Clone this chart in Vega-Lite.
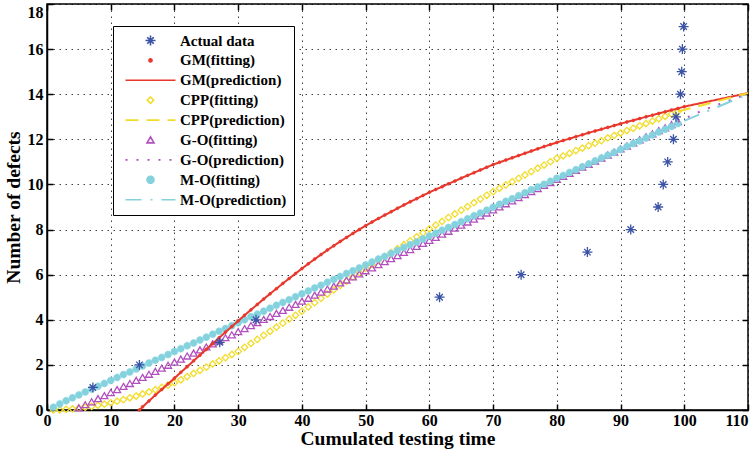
{
  "$schema": "https://vega.github.io/schema/vega-lite/v6.json",
  "autosize": {"type": "none"},
  "padding": {"left": 47, "top": 4, "right": 8, "bottom": 42},
  "width": 701,
  "height": 406,
  "background": "white",
  "datasets": {
    "actual": [
      {"s":"Actual data","t":7.2,"y":1},{"s":"Actual data","t":14.5,"y":2},{"s":"Actual data","t":27.1,"y":3},{"s":"Actual data","t":32.8,"y":4},{"s":"Actual data","t":61.6,"y":5},{"s":"Actual data","t":74.4,"y":6},{"s":"Actual data","t":84.8,"y":7},{"s":"Actual data","t":91.6,"y":8},{"s":"Actual data","t":95.9,"y":9},{"s":"Actual data","t":96.7,"y":10},{"s":"Actual data","t":97.4,"y":11},{"s":"Actual data","t":98.3,"y":12},{"s":"Actual data","t":98.7,"y":13},{"s":"Actual data","t":99.4,"y":14},{"s":"Actual data","t":99.6,"y":15},{"s":"Actual data","t":99.7,"y":16},{"s":"Actual data","t":99.9,"y":17}
    ],
    "gm": [
      {"s":"GM(fitting)","t":14.5,"y":0},{"s":"GM(fitting)","t":15,"y":0.14},{"s":"GM(fitting)","t":16,"y":0.4},{"s":"GM(fitting)","t":17,"y":0.66},{"s":"GM(fitting)","t":18,"y":0.91},{"s":"GM(fitting)","t":19,"y":1.16},{"s":"GM(fitting)","t":20,"y":1.41},
      {"s":"GM(fitting)","t":21,"y":1.67},{"s":"GM(fitting)","t":22,"y":1.92},{"s":"GM(fitting)","t":23,"y":2.18},{"s":"GM(fitting)","t":24,"y":2.43},{"s":"GM(fitting)","t":25,"y":2.69},{"s":"GM(fitting)","t":26,"y":2.94},{"s":"GM(fitting)","t":27,"y":3.2},{"s":"GM(fitting)","t":28,"y":3.45},{"s":"GM(fitting)","t":29,"y":3.7},{"s":"GM(fitting)","t":30,"y":3.95},
      {"s":"GM(fitting)","t":31,"y":4.2},{"s":"GM(fitting)","t":32,"y":4.44},{"s":"GM(fitting)","t":33,"y":4.68},{"s":"GM(fitting)","t":34,"y":4.92},{"s":"GM(fitting)","t":35,"y":5.15},{"s":"GM(fitting)","t":36,"y":5.38},{"s":"GM(fitting)","t":37,"y":5.61},{"s":"GM(fitting)","t":38,"y":5.83},{"s":"GM(fitting)","t":39,"y":6.05},{"s":"GM(fitting)","t":40,"y":6.27},
      {"s":"GM(fitting)","t":41,"y":6.48},{"s":"GM(fitting)","t":42,"y":6.69},{"s":"GM(fitting)","t":43,"y":6.89},{"s":"GM(fitting)","t":44,"y":7.09},{"s":"GM(fitting)","t":45,"y":7.28},{"s":"GM(fitting)","t":46,"y":7.47},{"s":"GM(fitting)","t":47,"y":7.65},{"s":"GM(fitting)","t":48,"y":7.83},{"s":"GM(fitting)","t":49,"y":8.0},{"s":"GM(fitting)","t":50,"y":8.17},
      {"s":"GM(fitting)","t":51,"y":8.33},{"s":"GM(fitting)","t":52,"y":8.49},{"s":"GM(fitting)","t":53,"y":8.64},{"s":"GM(fitting)","t":54,"y":8.79},{"s":"GM(fitting)","t":55,"y":8.94},{"s":"GM(fitting)","t":56,"y":9.09},{"s":"GM(fitting)","t":57,"y":9.23},{"s":"GM(fitting)","t":58,"y":9.37},{"s":"GM(fitting)","t":59,"y":9.51},{"s":"GM(fitting)","t":60,"y":9.65},
      {"s":"GM(fitting)","t":61,"y":9.78},{"s":"GM(fitting)","t":62,"y":9.9},{"s":"GM(fitting)","t":63,"y":10.03},{"s":"GM(fitting)","t":64,"y":10.15},{"s":"GM(fitting)","t":65,"y":10.28},{"s":"GM(fitting)","t":66,"y":10.4},{"s":"GM(fitting)","t":67,"y":10.52},{"s":"GM(fitting)","t":68,"y":10.64},{"s":"GM(fitting)","t":69,"y":10.76},{"s":"GM(fitting)","t":70,"y":10.88},
      {"s":"GM(fitting)","t":71,"y":10.98},{"s":"GM(fitting)","t":72,"y":11.08},{"s":"GM(fitting)","t":73,"y":11.18},{"s":"GM(fitting)","t":74,"y":11.28},{"s":"GM(fitting)","t":75,"y":11.38},{"s":"GM(fitting)","t":76,"y":11.48},{"s":"GM(fitting)","t":77,"y":11.58},{"s":"GM(fitting)","t":78,"y":11.68},{"s":"GM(fitting)","t":79,"y":11.77},{"s":"GM(fitting)","t":80,"y":11.86},
      {"s":"GM(fitting)","t":81,"y":11.95},{"s":"GM(fitting)","t":82,"y":12.03},{"s":"GM(fitting)","t":83,"y":12.12},{"s":"GM(fitting)","t":84,"y":12.2},{"s":"GM(fitting)","t":85,"y":12.29},{"s":"GM(fitting)","t":86,"y":12.37},{"s":"GM(fitting)","t":87,"y":12.45},{"s":"GM(fitting)","t":88,"y":12.53},{"s":"GM(fitting)","t":89,"y":12.61},{"s":"GM(fitting)","t":90,"y":12.69},
      {"s":"GM(fitting)","t":91,"y":12.77},{"s":"GM(fitting)","t":92,"y":12.84},{"s":"GM(fitting)","t":93,"y":12.92},{"s":"GM(fitting)","t":94,"y":13.0},{"s":"GM(fitting)","t":95,"y":13.07},{"s":"GM(fitting)","t":96,"y":13.15},{"s":"GM(fitting)","t":97,"y":13.22},{"s":"GM(fitting)","t":98,"y":13.3},{"s":"GM(fitting)","t":99,"y":13.37},{"s":"GM(fitting)","t":100,"y":13.45},
      {"s":"GM(prediction)","t":100,"y":13.45},{"s":"GM(prediction)","t":102,"y":13.57},{"s":"GM(prediction)","t":104,"y":13.69},{"s":"GM(prediction)","t":106,"y":13.81},{"s":"GM(prediction)","t":108,"y":13.93},{"s":"GM(prediction)","t":110,"y":14.05}
    ],
    "cpp": [
      {"s":"CPP(fitting)","t":1,"y":0},{"s":"CPP(fitting)","t":2,"y":0.01},{"s":"CPP(fitting)","t":3,"y":0.03},{"s":"CPP(fitting)","t":4,"y":0.05},{"s":"CPP(fitting)","t":5,"y":0.08},{"s":"CPP(fitting)","t":6,"y":0.12},{"s":"CPP(fitting)","t":7,"y":0.16},{"s":"CPP(fitting)","t":8,"y":0.21},{"s":"CPP(fitting)","t":9,"y":0.26},{"s":"CPP(fitting)","t":10,"y":0.32},
      {"s":"CPP(fitting)","t":11,"y":0.39},{"s":"CPP(fitting)","t":12,"y":0.46},{"s":"CPP(fitting)","t":13,"y":0.54},{"s":"CPP(fitting)","t":14,"y":0.62},{"s":"CPP(fitting)","t":15,"y":0.71},{"s":"CPP(fitting)","t":16,"y":0.8},{"s":"CPP(fitting)","t":17,"y":0.9},{"s":"CPP(fitting)","t":18,"y":1.0},{"s":"CPP(fitting)","t":19,"y":1.1},{"s":"CPP(fitting)","t":20,"y":1.21},
      {"s":"CPP(fitting)","t":21,"y":1.34},{"s":"CPP(fitting)","t":22,"y":1.48},{"s":"CPP(fitting)","t":23,"y":1.62},{"s":"CPP(fitting)","t":24,"y":1.76},{"s":"CPP(fitting)","t":25,"y":1.9},{"s":"CPP(fitting)","t":26,"y":2.04},{"s":"CPP(fitting)","t":27,"y":2.18},{"s":"CPP(fitting)","t":28,"y":2.32},{"s":"CPP(fitting)","t":29,"y":2.46},{"s":"CPP(fitting)","t":30,"y":2.6},
      {"s":"CPP(fitting)","t":31,"y":2.78},{"s":"CPP(fitting)","t":32,"y":2.95},{"s":"CPP(fitting)","t":33,"y":3.13},{"s":"CPP(fitting)","t":34,"y":3.31},{"s":"CPP(fitting)","t":35,"y":3.49},{"s":"CPP(fitting)","t":36,"y":3.67},{"s":"CPP(fitting)","t":37,"y":3.85},{"s":"CPP(fitting)","t":38,"y":4.03},{"s":"CPP(fitting)","t":39,"y":4.2},{"s":"CPP(fitting)","t":40,"y":4.38},
      {"s":"CPP(fitting)","t":41,"y":4.57},{"s":"CPP(fitting)","t":42,"y":4.76},{"s":"CPP(fitting)","t":43,"y":4.95},{"s":"CPP(fitting)","t":44,"y":5.14},{"s":"CPP(fitting)","t":45,"y":5.33},{"s":"CPP(fitting)","t":46,"y":5.52},{"s":"CPP(fitting)","t":47,"y":5.71},{"s":"CPP(fitting)","t":48,"y":5.9},{"s":"CPP(fitting)","t":49,"y":6.09},{"s":"CPP(fitting)","t":50,"y":6.28},
      {"s":"CPP(fitting)","t":51,"y":6.45},{"s":"CPP(fitting)","t":52,"y":6.63},{"s":"CPP(fitting)","t":53,"y":6.8},{"s":"CPP(fitting)","t":54,"y":6.98},{"s":"CPP(fitting)","t":55,"y":7.15},{"s":"CPP(fitting)","t":56,"y":7.33},{"s":"CPP(fitting)","t":57,"y":7.5},{"s":"CPP(fitting)","t":58,"y":7.68},{"s":"CPP(fitting)","t":59,"y":7.85},{"s":"CPP(fitting)","t":60,"y":8.03},
      {"s":"CPP(fitting)","t":61,"y":8.2},{"s":"CPP(fitting)","t":62,"y":8.36},{"s":"CPP(fitting)","t":63,"y":8.53},{"s":"CPP(fitting)","t":64,"y":8.69},{"s":"CPP(fitting)","t":65,"y":8.86},{"s":"CPP(fitting)","t":66,"y":9.02},{"s":"CPP(fitting)","t":67,"y":9.19},{"s":"CPP(fitting)","t":68,"y":9.35},{"s":"CPP(fitting)","t":69,"y":9.52},{"s":"CPP(fitting)","t":70,"y":9.68},
      {"s":"CPP(fitting)","t":71,"y":9.83},{"s":"CPP(fitting)","t":72,"y":9.98},{"s":"CPP(fitting)","t":73,"y":10.12},{"s":"CPP(fitting)","t":74,"y":10.27},{"s":"CPP(fitting)","t":75,"y":10.42},{"s":"CPP(fitting)","t":76,"y":10.57},{"s":"CPP(fitting)","t":77,"y":10.72},{"s":"CPP(fitting)","t":78,"y":10.86},{"s":"CPP(fitting)","t":79,"y":11.01},{"s":"CPP(fitting)","t":80,"y":11.16},
      {"s":"CPP(fitting)","t":81,"y":11.27},{"s":"CPP(fitting)","t":82,"y":11.38},{"s":"CPP(fitting)","t":83,"y":11.5},{"s":"CPP(fitting)","t":84,"y":11.61},{"s":"CPP(fitting)","t":85,"y":11.72},{"s":"CPP(fitting)","t":86,"y":11.83},{"s":"CPP(fitting)","t":87,"y":11.94},{"s":"CPP(fitting)","t":88,"y":12.06},{"s":"CPP(fitting)","t":89,"y":12.17},{"s":"CPP(fitting)","t":90,"y":12.28},
      {"s":"CPP(fitting)","t":91,"y":12.39},{"s":"CPP(fitting)","t":92,"y":12.49},{"s":"CPP(fitting)","t":93,"y":12.6},{"s":"CPP(fitting)","t":94,"y":12.7},{"s":"CPP(fitting)","t":95,"y":12.81},{"s":"CPP(fitting)","t":96,"y":12.91},{"s":"CPP(fitting)","t":97,"y":13.02},{"s":"CPP(fitting)","t":98,"y":13.12},{"s":"CPP(fitting)","t":99,"y":13.23},
      {"s":"CPP(prediction)","t":99,"y":13.23},{"s":"CPP(prediction)","t":110,"y":14.05}
    ],
    "go": [
      {"s":"G-O(fitting)","t":5,"y":0.09},{"s":"G-O(fitting)","t":6,"y":0.23},{"s":"G-O(fitting)","t":7,"y":0.36},{"s":"G-O(fitting)","t":8,"y":0.5},{"s":"G-O(fitting)","t":9,"y":0.63},{"s":"G-O(fitting)","t":10,"y":0.77},
      {"s":"G-O(fitting)","t":11,"y":0.9},{"s":"G-O(fitting)","t":12,"y":1.04},{"s":"G-O(fitting)","t":13,"y":1.17},{"s":"G-O(fitting)","t":14,"y":1.31},{"s":"G-O(fitting)","t":15,"y":1.44},{"s":"G-O(fitting)","t":16,"y":1.58},{"s":"G-O(fitting)","t":17,"y":1.71},{"s":"G-O(fitting)","t":18,"y":1.85},{"s":"G-O(fitting)","t":19,"y":1.98},{"s":"G-O(fitting)","t":20,"y":2.12},
      {"s":"G-O(fitting)","t":21,"y":2.25},{"s":"G-O(fitting)","t":22,"y":2.39},{"s":"G-O(fitting)","t":23,"y":2.52},{"s":"G-O(fitting)","t":24,"y":2.66},{"s":"G-O(fitting)","t":25,"y":2.79},{"s":"G-O(fitting)","t":26,"y":2.93},{"s":"G-O(fitting)","t":27,"y":3.06},{"s":"G-O(fitting)","t":28,"y":3.2},{"s":"G-O(fitting)","t":29,"y":3.33},{"s":"G-O(fitting)","t":30,"y":3.47},
      {"s":"G-O(fitting)","t":31,"y":3.6},{"s":"G-O(fitting)","t":32,"y":3.74},{"s":"G-O(fitting)","t":33,"y":3.87},{"s":"G-O(fitting)","t":34,"y":4.01},{"s":"G-O(fitting)","t":35,"y":4.14},{"s":"G-O(fitting)","t":36,"y":4.28},{"s":"G-O(fitting)","t":37,"y":4.41},{"s":"G-O(fitting)","t":38,"y":4.55},{"s":"G-O(fitting)","t":39,"y":4.68},{"s":"G-O(fitting)","t":40,"y":4.82},
      {"s":"G-O(fitting)","t":41,"y":4.95},{"s":"G-O(fitting)","t":42,"y":5.09},{"s":"G-O(fitting)","t":43,"y":5.22},{"s":"G-O(fitting)","t":44,"y":5.36},{"s":"G-O(fitting)","t":45,"y":5.49},{"s":"G-O(fitting)","t":46,"y":5.63},{"s":"G-O(fitting)","t":47,"y":5.76},{"s":"G-O(fitting)","t":48,"y":5.9},{"s":"G-O(fitting)","t":49,"y":6.03},{"s":"G-O(fitting)","t":50,"y":6.17},
      {"s":"G-O(fitting)","t":51,"y":6.3},{"s":"G-O(fitting)","t":52,"y":6.44},{"s":"G-O(fitting)","t":53,"y":6.57},{"s":"G-O(fitting)","t":54,"y":6.71},{"s":"G-O(fitting)","t":55,"y":6.84},{"s":"G-O(fitting)","t":56,"y":6.98},{"s":"G-O(fitting)","t":57,"y":7.11},{"s":"G-O(fitting)","t":58,"y":7.25},{"s":"G-O(fitting)","t":59,"y":7.38},{"s":"G-O(fitting)","t":60,"y":7.52},
      {"s":"G-O(fitting)","t":61,"y":7.65},{"s":"G-O(fitting)","t":62,"y":7.79},{"s":"G-O(fitting)","t":63,"y":7.92},{"s":"G-O(fitting)","t":64,"y":8.06},{"s":"G-O(fitting)","t":65,"y":8.19},{"s":"G-O(fitting)","t":66,"y":8.33},{"s":"G-O(fitting)","t":67,"y":8.46},{"s":"G-O(fitting)","t":68,"y":8.6},{"s":"G-O(fitting)","t":69,"y":8.73},{"s":"G-O(fitting)","t":70,"y":8.87},
      {"s":"G-O(fitting)","t":71,"y":9.0},{"s":"G-O(fitting)","t":72,"y":9.14},{"s":"G-O(fitting)","t":73,"y":9.27},{"s":"G-O(fitting)","t":74,"y":9.41},{"s":"G-O(fitting)","t":75,"y":9.54},{"s":"G-O(fitting)","t":76,"y":9.68},{"s":"G-O(fitting)","t":77,"y":9.81},{"s":"G-O(fitting)","t":78,"y":9.95},{"s":"G-O(fitting)","t":79,"y":10.08},{"s":"G-O(fitting)","t":80,"y":10.22},
      {"s":"G-O(fitting)","t":81,"y":10.35},{"s":"G-O(fitting)","t":82,"y":10.49},{"s":"G-O(fitting)","t":83,"y":10.62},{"s":"G-O(fitting)","t":84,"y":10.76},{"s":"G-O(fitting)","t":85,"y":10.89},{"s":"G-O(fitting)","t":86,"y":11.03},{"s":"G-O(fitting)","t":87,"y":11.16},{"s":"G-O(fitting)","t":88,"y":11.3},{"s":"G-O(fitting)","t":89,"y":11.43},{"s":"G-O(fitting)","t":90,"y":11.57},
      {"s":"G-O(fitting)","t":91,"y":11.7},{"s":"G-O(fitting)","t":92,"y":11.84},{"s":"G-O(fitting)","t":93,"y":11.97},{"s":"G-O(fitting)","t":94,"y":12.11},{"s":"G-O(fitting)","t":95,"y":12.24},{"s":"G-O(fitting)","t":96,"y":12.38},{"s":"G-O(fitting)","t":97,"y":12.51},{"s":"G-O(fitting)","t":98,"y":12.65},{"s":"G-O(fitting)","t":99,"y":12.78},
      {"s":"G-O(prediction)","t":99,"y":12.78},{"s":"G-O(prediction)","t":103,"y":13.3},{"s":"G-O(prediction)","t":110,"y":14.02}
    ],
    "mo": [
      {"s":"M-O(fitting)","t":1,"y":0.12},{"s":"M-O(fitting)","t":2,"y":0.27},{"s":"M-O(fitting)","t":3,"y":0.41},{"s":"M-O(fitting)","t":4,"y":0.54},{"s":"M-O(fitting)","t":5,"y":0.67},{"s":"M-O(fitting)","t":6,"y":0.8},{"s":"M-O(fitting)","t":7,"y":0.93},{"s":"M-O(fitting)","t":8,"y":1.05},{"s":"M-O(fitting)","t":9,"y":1.18},{"s":"M-O(fitting)","t":10,"y":1.31},
      {"s":"M-O(fitting)","t":11,"y":1.44},{"s":"M-O(fitting)","t":12,"y":1.57},{"s":"M-O(fitting)","t":13,"y":1.69},{"s":"M-O(fitting)","t":14,"y":1.82},{"s":"M-O(fitting)","t":15,"y":1.95},{"s":"M-O(fitting)","t":16,"y":2.08},{"s":"M-O(fitting)","t":17,"y":2.21},{"s":"M-O(fitting)","t":18,"y":2.33},{"s":"M-O(fitting)","t":19,"y":2.46},{"s":"M-O(fitting)","t":20,"y":2.59},
      {"s":"M-O(fitting)","t":21,"y":2.72},{"s":"M-O(fitting)","t":22,"y":2.85},{"s":"M-O(fitting)","t":23,"y":2.97},{"s":"M-O(fitting)","t":24,"y":3.1},{"s":"M-O(fitting)","t":25,"y":3.23},{"s":"M-O(fitting)","t":26,"y":3.36},{"s":"M-O(fitting)","t":27,"y":3.49},{"s":"M-O(fitting)","t":28,"y":3.61},{"s":"M-O(fitting)","t":29,"y":3.74},{"s":"M-O(fitting)","t":30,"y":3.87},
      {"s":"M-O(fitting)","t":31,"y":4.0},{"s":"M-O(fitting)","t":32,"y":4.13},{"s":"M-O(fitting)","t":33,"y":4.25},{"s":"M-O(fitting)","t":34,"y":4.38},{"s":"M-O(fitting)","t":35,"y":4.51},{"s":"M-O(fitting)","t":36,"y":4.64},{"s":"M-O(fitting)","t":37,"y":4.77},{"s":"M-O(fitting)","t":38,"y":4.89},{"s":"M-O(fitting)","t":39,"y":5.02},{"s":"M-O(fitting)","t":40,"y":5.15},
      {"s":"M-O(fitting)","t":41,"y":5.28},{"s":"M-O(fitting)","t":42,"y":5.41},{"s":"M-O(fitting)","t":43,"y":5.53},{"s":"M-O(fitting)","t":44,"y":5.66},{"s":"M-O(fitting)","t":45,"y":5.79},{"s":"M-O(fitting)","t":46,"y":5.92},{"s":"M-O(fitting)","t":47,"y":6.05},{"s":"M-O(fitting)","t":48,"y":6.17},{"s":"M-O(fitting)","t":49,"y":6.3},{"s":"M-O(fitting)","t":50,"y":6.43},
      {"s":"M-O(fitting)","t":51,"y":6.56},{"s":"M-O(fitting)","t":52,"y":6.69},{"s":"M-O(fitting)","t":53,"y":6.81},{"s":"M-O(fitting)","t":54,"y":6.94},{"s":"M-O(fitting)","t":55,"y":7.07},{"s":"M-O(fitting)","t":56,"y":7.2},{"s":"M-O(fitting)","t":57,"y":7.33},{"s":"M-O(fitting)","t":58,"y":7.45},{"s":"M-O(fitting)","t":59,"y":7.58},{"s":"M-O(fitting)","t":60,"y":7.71},
      {"s":"M-O(fitting)","t":61,"y":7.84},{"s":"M-O(fitting)","t":62,"y":7.97},{"s":"M-O(fitting)","t":63,"y":8.09},{"s":"M-O(fitting)","t":64,"y":8.22},{"s":"M-O(fitting)","t":65,"y":8.35},{"s":"M-O(fitting)","t":66,"y":8.48},{"s":"M-O(fitting)","t":67,"y":8.61},{"s":"M-O(fitting)","t":68,"y":8.73},{"s":"M-O(fitting)","t":69,"y":8.86},{"s":"M-O(fitting)","t":70,"y":8.99},
      {"s":"M-O(fitting)","t":71,"y":9.12},{"s":"M-O(fitting)","t":72,"y":9.25},{"s":"M-O(fitting)","t":73,"y":9.37},{"s":"M-O(fitting)","t":74,"y":9.5},{"s":"M-O(fitting)","t":75,"y":9.63},{"s":"M-O(fitting)","t":76,"y":9.76},{"s":"M-O(fitting)","t":77,"y":9.89},{"s":"M-O(fitting)","t":78,"y":10.01},{"s":"M-O(fitting)","t":79,"y":10.14},{"s":"M-O(fitting)","t":80,"y":10.27},
      {"s":"M-O(fitting)","t":81,"y":10.4},{"s":"M-O(fitting)","t":82,"y":10.53},{"s":"M-O(fitting)","t":83,"y":10.65},{"s":"M-O(fitting)","t":84,"y":10.78},{"s":"M-O(fitting)","t":85,"y":10.91},{"s":"M-O(fitting)","t":86,"y":11.04},{"s":"M-O(fitting)","t":87,"y":11.17},{"s":"M-O(fitting)","t":88,"y":11.29},{"s":"M-O(fitting)","t":89,"y":11.42},{"s":"M-O(fitting)","t":90,"y":11.55},
      {"s":"M-O(fitting)","t":91,"y":11.68},{"s":"M-O(fitting)","t":92,"y":11.81},{"s":"M-O(fitting)","t":93,"y":11.93},{"s":"M-O(fitting)","t":94,"y":12.06},{"s":"M-O(fitting)","t":95,"y":12.19},{"s":"M-O(fitting)","t":96,"y":12.32},{"s":"M-O(fitting)","t":97,"y":12.45},{"s":"M-O(fitting)","t":98,"y":12.57},{"s":"M-O(fitting)","t":99,"y":12.7},
      {"s":"M-O(prediction)","t":100,"y":12.82},{"s":"M-O(prediction)","t":110,"y":14.0}
    ]
  },
  "layer": [
    {
      "data": {"name": "cpp"},
      "transform": [{"filter": "datum.s === 'CPP(fitting)'"}],
      "mark": {"type": "point", "size": 100, "filled": true, "strokeWidth": 1.3, "opacity": 1},
      "encoding": {
        "x": {"field": "t", "type": "quantitative", "scale": {"domain": [0, 110], "nice": false, "zero": false},
          "axis": {"values": [0,10,20,30,40,50,60,70,80,90,100,110], "title": "Cumulated testing time", "grid": true,
            "labelAlign": {"condition": {"test": "datum.value === 110", "value": "right"}, "value": "center"},
            "labelPadding": 8, "titlePadding": 1}},
        "y": {"field": "y", "type": "quantitative", "scale": {"domain": [0, 18], "nice": false, "zero": false},
          "axis": {"values": [0,2,4,6,8,10,12,14,16,18], "title": "Number of defects", "grid": true,
            "labelBaseline": {"condition": {"test": "datum.value === 18", "value": "top"}, "value": "middle"},
            "labelPadding": 10, "titlePadding": 4}},
        "stroke": {"field": "s", "type": "nominal",
          "scale": {"domain": ["Actual data", "GM(fitting)", "GM(prediction)", "CPP(fitting)", "CPP(prediction)", "G-O(fitting)", "G-O(prediction)", "M-O(fitting)", "M-O(prediction)"],
            "range": ["#3b53a5", "#e8372c", "#e8372c", "#f2dc2a", "#f2dc2a", "#b24fbf", "#b24fbf", "#84d2de", "#84d2de"]},
          "legend": {"title": null, "orient": "none", "legendX": 66, "legendY": 22}},
        "fill": {"field": "s", "type": "nominal",
          "scale": {"domain": ["Actual data", "GM(fitting)", "GM(prediction)", "CPP(fitting)", "CPP(prediction)", "G-O(fitting)", "G-O(prediction)", "M-O(fitting)", "M-O(prediction)"],
            "range": ["transparent", "#e8372c", "transparent", "transparent", "transparent", "transparent", "transparent", "#84d2de", "transparent"]},
          "legend": {"title": null, "orient": "none", "legendX": 66, "legendY": 22}},
        "shape": {"field": "s", "type": "nominal",
          "scale": {"domain": ["Actual data", "GM(fitting)", "GM(prediction)", "CPP(fitting)", "CPP(prediction)", "G-O(fitting)", "G-O(prediction)", "M-O(fitting)", "M-O(prediction)"],
            "range": [
              "M-1,0L1,0M0,-1L0,1M-0.65,-0.65L0.65,0.65M-0.65,0.65L0.65,-0.65",
              "M-0.3,0A0.3,0.3,0,1,1,0.3,0A0.3,0.3,0,1,1,-0.3,0Z",
              "M-5,0L5,0",
              "M0,-0.64L0.64,0L0,0.64L-0.64,0Z",
              "M-5,0L5,0",
              "M0,-0.62L0.7,0.58L-0.7,0.58Z",
              "M-5,0L5,0",
              "M-0.7,0A0.7,0.7,0,1,1,0.7,0A0.7,0.7,0,1,1,-0.7,0Z",
              "M-5,0L5,0"
            ]},
          "legend": {"title": null, "orient": "none", "legendX": 66, "legendY": 22}}
      }
    },
    {
      "data": {"name": "go"},
      "transform": [{"filter": "datum.s === 'G-O(fitting)'"}],
      "mark": {"type": "point", "size": 100, "filled": true, "strokeWidth": 1.3, "opacity": 1},
      "encoding": {
        "x": {"field": "t", "type": "quantitative", "axis": null},
        "y": {"field": "y", "type": "quantitative", "axis": null},
        "stroke": {"field": "s", "type": "nominal"},
        "fill": {"field": "s", "type": "nominal"},
        "shape": {"field": "s", "type": "nominal"}
      }
    },
    {
      "data": {"name": "mo"},
      "transform": [{"filter": "datum.s === 'M-O(fitting)'"}],
      "mark": {"type": "point", "size": 100, "filled": true, "strokeWidth": 0.5, "opacity": 1},
      "encoding": {
        "x": {"field": "t", "type": "quantitative", "axis": null},
        "y": {"field": "y", "type": "quantitative", "axis": null},
        "stroke": {"field": "s", "type": "nominal"},
        "fill": {"field": "s", "type": "nominal"},
        "shape": {"field": "s", "type": "nominal"}
      }
    },
    {
      "data": {"name": "gm"},
      "transform": [{"filter": "datum.s === 'GM(fitting)'"}],
      "mark": {"type": "point", "size": 100, "filled": true, "strokeWidth": 0.5, "opacity": 1},
      "encoding": {
        "x": {"field": "t", "type": "quantitative", "axis": null},
        "y": {"field": "y", "type": "quantitative", "axis": null},
        "stroke": {"field": "s", "type": "nominal"},
        "fill": {"field": "s", "type": "nominal"},
        "shape": {"field": "s", "type": "nominal"}
      }
    },
    {
      "data": {"name": "gm"},
      "mark": {"type": "line", "strokeWidth": 2},
      "encoding": {
        "x": {"field": "t", "type": "quantitative", "axis": null},
        "y": {"field": "y", "type": "quantitative", "axis": null},
        "stroke": {"field": "s", "type": "nominal"},
        "strokeDash": {"field": "s", "type": "nominal",
          "scale": {"domain": ["Actual data", "GM(fitting)", "GM(prediction)", "CPP(fitting)", "CPP(prediction)", "G-O(fitting)", "G-O(prediction)", "M-O(fitting)", "M-O(prediction)"],
            "range": [[1, 0], [1, 0], [1, 0], [1, 0], [13, 8], [1, 0], [2, 9], [1, 0], [16, 9, 2, 9]]},
          "legend": {"title": null, "orient": "none", "legendX": 66, "legendY": 22}}
      }
    },
    {
      "data": {"name": "cpp"},
      "transform": [{"filter": "datum.s === 'CPP(prediction)'"}],
      "mark": {"type": "line", "strokeWidth": 2},
      "encoding": {
        "x": {"field": "t", "type": "quantitative", "axis": null},
        "y": {"field": "y", "type": "quantitative", "axis": null},
        "stroke": {"field": "s", "type": "nominal"},
        "strokeDash": {"field": "s", "type": "nominal"}
      }
    },
    {
      "data": {"name": "go"},
      "transform": [{"filter": "datum.s === 'G-O(prediction)'"}],
      "mark": {"type": "line", "strokeWidth": 2},
      "encoding": {
        "x": {"field": "t", "type": "quantitative", "axis": null},
        "y": {"field": "y", "type": "quantitative", "axis": null},
        "stroke": {"field": "s", "type": "nominal"},
        "strokeDash": {"field": "s", "type": "nominal"}
      }
    },
    {
      "data": {"name": "mo"},
      "transform": [{"filter": "datum.s === 'M-O(prediction)'"}],
      "mark": {"type": "line", "strokeWidth": 2},
      "encoding": {
        "x": {"field": "t", "type": "quantitative", "axis": null},
        "y": {"field": "y", "type": "quantitative", "axis": null},
        "stroke": {"field": "s", "type": "nominal"},
        "strokeDash": {"field": "s", "type": "nominal"}
      }
    },
    {
      "data": {"name": "actual"},
      "mark": {"type": "point", "size": 100, "filled": true, "strokeWidth": 1.3, "opacity": 1},
      "encoding": {
        "x": {"field": "t", "type": "quantitative",
          "axis": {"orient": "top", "values": [0,10,20,30,40,50,60,70,80,90,100,110], "labels": false, "title": null, "grid": false, "domain": false}},
        "y": {"field": "y", "type": "quantitative",
          "axis": {"orient": "right", "values": [0,2,4,6,8,10,12,14,16,18], "labels": false, "title": null, "grid": false, "domain": false}},
        "stroke": {"field": "s", "type": "nominal"},
        "fill": {"field": "s", "type": "nominal"},
        "shape": {"field": "s", "type": "nominal"}
      }
    }
  ],
  "resolve": {"axis": {"x": "independent", "y": "independent"}},
  "config": {
    "view": {"stroke": "black", "strokeWidth": 1.5},
    "legend": {
      "orient": "none", "legendX": 66, "legendY": 22,
      "fillColor": "white", "strokeColor": "black", "padding": 7,
      "symbolSize": 100, "symbolOffset": 23, "labelOffset": 22, "rowPadding": 3.9,
      "symbolStrokeWidth": 1.6, "symbolOpacity": 1,
      "labelFont": "Liberation Serif", "labelFontSize": 15, "labelFontWeight": "bold", "labelColor": "black", "labelLimit": 300
    },
    "axis": {
      "gridDash": [1.5, 4.5], "gridColor": "black", "gridOpacity": 0.75, "gridWidth": 1,
      "tickSize": -6, "tickColor": "black", "tickWidth": 1.5,
      "domainColor": "black", "domainWidth": 1.5,
      "labelFont": "Liberation Serif", "labelFontWeight": "bold", "labelFontSize": 16, "labelColor": "black",
      "titleFont": "Liberation Serif", "titleFontWeight": "bold", "titleFontSize": 19.5, "titleColor": "black"
    }
  }
}
